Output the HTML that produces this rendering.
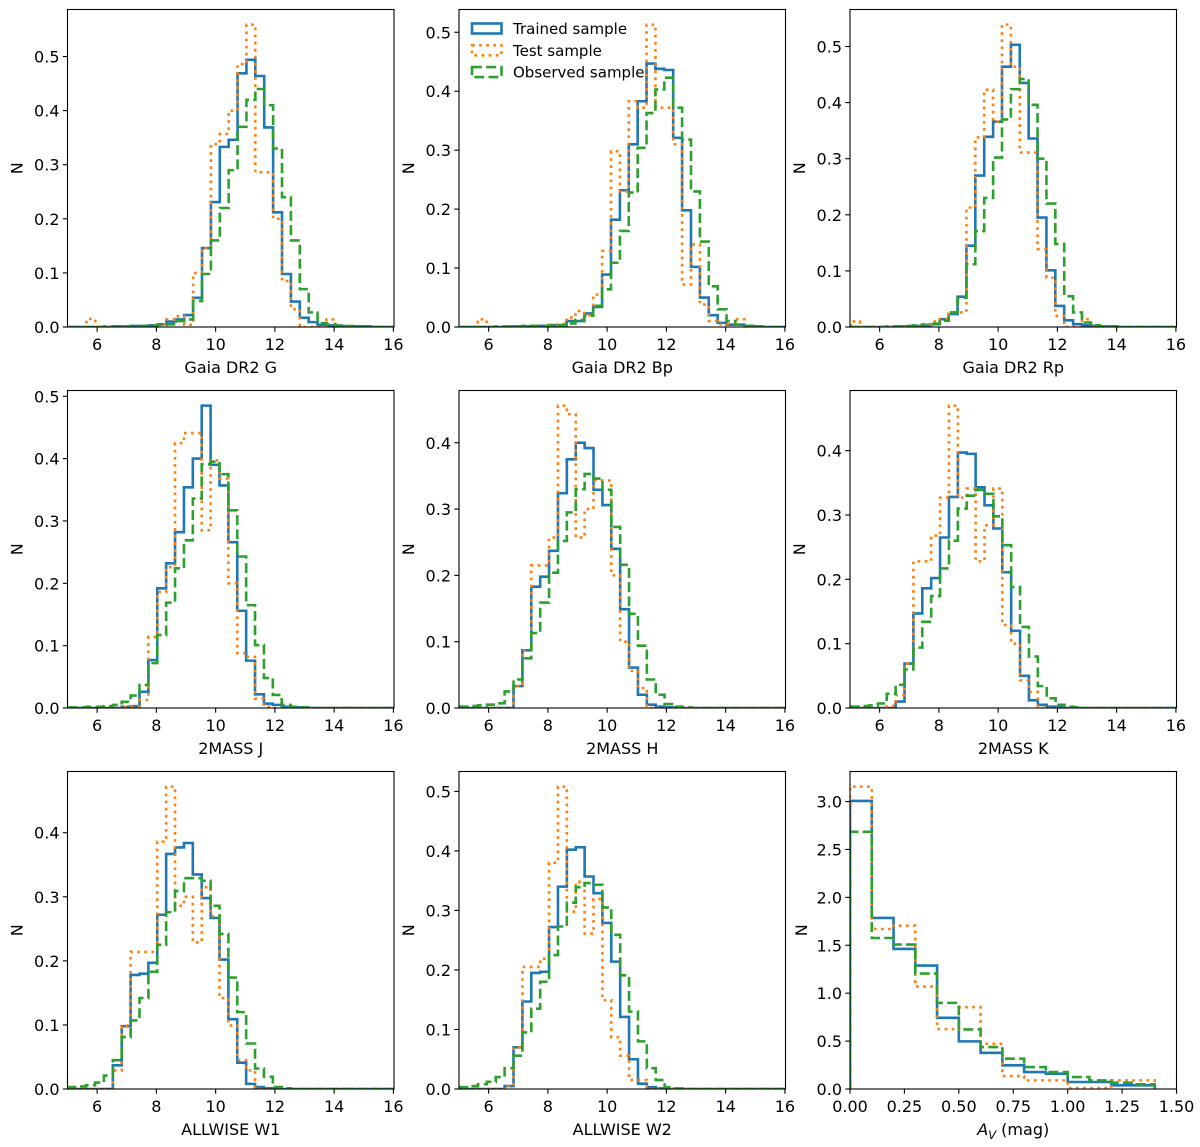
<!DOCTYPE html>
<html><head><meta charset="utf-8"><style>
html,body{margin:0;padding:0;background:#fff;}
svg{display:block;font-family:"DejaVu Sans","Liberation Sans",sans-serif;}
</style></head><body>
<svg id="fig" width="1200" height="1147" viewBox="0 0 1200 1147" xmlns="http://www.w3.org/2000/svg">
<rect x="0" y="0" width="1200" height="1147" fill="#fff"/>
</svg>
<script>
// ---- data ----
const binWidthMag = 0.3;
const binWidthAv = 0.1;
const xTicksMag = [6, 8, 10, 12, 14, 16];
const xTicksAv = [0, 0.25, 0.5, 0.75, 1.0, 1.25, 1.5];
const xLabels = ["Gaia DR2 G","Gaia DR2 Bp","Gaia DR2 Rp","2MASS J","2MASS H","2MASS K","ALLWISE W1","ALLWISE W2","A_V"];
const binStarts = [5.04, 5.03, 5.03, 5.03, 5.04, 5.04, 5.03, 5.04, 0];
const legendLabels = ["Trained sample","Test sample","Observed sample"];

const p1Blue = [0,0,0,0,0,0.001,0.001,0.002,0.002,0.003,0.005,0.01,0.014,0.022,0.054,0.146,0.231,0.333,0.346,0.469,0.494,0.464,0.369,0.212,0.098,0.047,0.017,0.009,0.004,0.003,0.002,0.001,0.001,0.001,0,0,0];
const p1Orange = [0,0,0.015,0,0,0,0,0,0,0,0.005,0.014,0.02,0.004,0.10,0.146,0.338,0.357,0.40,0.486,0.559,0.286,0.286,0.2,0.085,0.033,0,0,0,0.014,0,0,0,0,0,0,0];
const p1Green = [0,0,0,0,0.001,0.001,0.001,0.002,0.002,0.003,0.004,0.005,0.011,0.014,0.048,0.098,0.16,0.22,0.29,0.37,0.42,0.44,0.41,0.33,0.24,0.16,0.07,0.027,0.007,0.005,0.003,0.002,0.001,0.001,0,0,0];

const p2Blue = [0,0,0,0,0,0,0.001,0.001,0.002,0.002,0.003,0.003,0.01,0.01,0.023,0.034,0.089,0.182,0.232,0.31,0.383,0.447,0.438,0.436,0.321,0.198,0.102,0.05,0.02,0.007,0.004,0.004,0.002,0.001,0,0,0];
const p2Orange = [0,0,0.013,0,0,0,0,0,0,0,0.003,0.005,0.016,0.027,0.02,0.055,0.129,0.298,0.23,0.383,0.372,0.513,0.372,0.372,0.31,0.072,0.14,0.038,0.01,0.005,0.005,0.013,0,0,0,0,0];
const p2Green = [0,0,0,0,0.001,0.001,0.001,0.002,0.002,0.002,0.003,0.003,0.006,0.012,0.019,0.036,0.064,0.109,0.163,0.228,0.304,0.363,0.403,0.423,0.372,0.318,0.23,0.145,0.069,0.03,0.01,0.004,0.002,0.001,0,0,0];

const p3Blue = [0,0,0,0,0,0.001,0.001,0.002,0.003,0.005,0.014,0.023,0.054,0.145,0.27,0.339,0.366,0.464,0.503,0.435,0.336,0.195,0.101,0.0375,0.012,0.005,0.003,0.002,0.001,0.001,0,0,0,0,0,0,0];
const p3Orange = [0.01,0,0,0,0,0,0,0,0.005,0.01,0.014,0.026,0.026,0.213,0.338,0.423,0.366,0.539,0.464,0.311,0.311,0.139,0.088,0.02,0,0,0.014,0,0,0,0,0,0,0,0,0,0];
const p3Green = [0,0,0,0,0.001,0.001,0.002,0.003,0.004,0.006,0.011,0.026,0.052,0.112,0.171,0.23,0.302,0.37,0.424,0.442,0.396,0.3,0.22,0.148,0.055,0.026,0.008,0.003,0.001,0.001,0,0,0,0,0,0,0];

const p4Blue = [0,0,0,0,0,0,0.002,0.003,0.026,0.077,0.192,0.232,0.282,0.354,0.40,0.485,0.39,0.357,0.266,0.156,0.076,0.022,0.007,0.005,0.002,0.001,0.001,0,0,0,0,0,0,0,0,0,0];
const p4Orange = [0,0,0,0,0,0,0.002,0.003,0.013,0.114,0.186,0.226,0.425,0.441,0.441,0.285,0.397,0.368,0.2,0.088,0.082,0.015,0.002,0,0,0,0,0,0,0,0,0,0,0,0,0,0];
const p4Green = [0.001,0.001,0.002,0.002,0.003,0.005,0.01,0.02,0.037,0.072,0.117,0.169,0.224,0.269,0.336,0.391,0.395,0.375,0.317,0.243,0.165,0.101,0.048,0.021,0.005,0.002,0.001,0,0,0,0,0,0,0,0,0,0];

const p5Blue = [0,0,0,0,0,0,0.033,0.087,0.183,0.198,0.237,0.324,0.375,0.40,0.392,0.329,0.306,0.24,0.149,0.061,0.02,0.005,0.002,0.001,0,0,0,0,0,0,0,0,0,0,0,0,0];
const p5Orange = [0,0,0,0,0,0,0.033,0.087,0.215,0.215,0.257,0.456,0.443,0.257,0.30,0.343,0.343,0.2,0.1,0.056,0.03,0,0,0,0,0,0,0,0,0,0,0,0,0,0,0,0];
const p5Green = [0.002,0.003,0.004,0.005,0.007,0.025,0.043,0.075,0.113,0.159,0.204,0.252,0.295,0.33,0.353,0.346,0.329,0.273,0.216,0.142,0.094,0.043,0.02,0.006,0.002,0.001,0,0,0,0,0,0,0,0,0,0,0];

const p6Blue = [0,0,0,0,0,0.01,0.069,0.147,0.186,0.202,0.265,0.328,0.397,0.395,0.343,0.315,0.279,0.211,0.12,0.05,0.012,0.005,0.002,0.001,0,0,0,0,0,0,0,0,0,0,0,0,0];
const p6Orange = [0,0,0,0,0.003,0.02,0.069,0.228,0.228,0.268,0.327,0.47,0.327,0.341,0.228,0.284,0.341,0.129,0.1,0.043,0.025,0,0,0,0,0,0,0,0,0,0,0,0,0,0,0,0];
const p6Green = [0.002,0.003,0.004,0.007,0.022,0.036,0.06,0.094,0.134,0.174,0.217,0.26,0.31,0.33,0.339,0.333,0.298,0.253,0.188,0.126,0.08,0.034,0.015,0.005,0.002,0.001,0,0,0,0,0,0,0,0,0,0,0];

const p7Blue = [0,0,0,0,0,0.037,0.098,0.178,0.18,0.197,0.272,0.367,0.377,0.384,0.335,0.298,0.267,0.202,0.109,0.041,0.008,0.003,0.001,0,0,0,0,0,0,0,0,0,0,0,0,0,0];
const p7Orange = [0,0,0,0,0,0.029,0.099,0.214,0.214,0.214,0.386,0.472,0.286,0.3,0.229,0.315,0.27,0.142,0.099,0.045,0.029,0,0,0,0,0,0,0,0,0,0,0,0,0,0,0,0];
const p7Green = [0.003,0.004,0.006,0.01,0.021,0.045,0.081,0.107,0.142,0.183,0.225,0.276,0.309,0.329,0.329,0.325,0.286,0.242,0.174,0.12,0.071,0.032,0.019,0.003,0.001,0,0,0,0,0,0,0,0,0,0,0,0];

const p8Blue = [0,0,0,0,0,0.005,0.07,0.147,0.195,0.197,0.272,0.34,0.402,0.406,0.357,0.329,0.279,0.214,0.121,0.05,0.009,0.003,0.001,0,0,0,0,0,0,0,0,0,0,0,0,0,0];
const p8Orange = [0,0,0,0,0,0.005,0.07,0.205,0.205,0.219,0.38,0.508,0.298,0.348,0.261,0.319,0.149,0.087,0.056,0.015,0.015,0,0,0,0,0,0,0,0,0,0,0,0,0,0,0,0];
const p8Green = [0.003,0.005,0.008,0.012,0.02,0.035,0.056,0.095,0.135,0.18,0.225,0.273,0.313,0.339,0.346,0.343,0.305,0.259,0.191,0.13,0.08,0.035,0.015,0.003,0.001,0,0,0,0,0,0,0,0,0,0,0,0];

const p9Blue = [3.007,1.785,1.462,1.288,0.743,0.497,0.378,0.247,0.177,0.16,0.073,0.073,0.038,0.038];
const p9Orange = [3.156,1.67,1.705,1.069,0.625,0.854,0.472,0.135,0.09,0.09,0.01,0.01,0.09,0.09];
const p9Green = [2.684,1.576,1.507,1.205,0.899,0.622,0.438,0.316,0.229,0.177,0.125,0.09,0.066,0.049];

const blueSeries = [p1Blue,p2Blue,p3Blue,p4Blue,p5Blue,p6Blue,p7Blue,p8Blue,p9Blue];
const orangeSeries = [p1Orange,p2Orange,p3Orange,p4Orange,p5Orange,p6Orange,p7Orange,p8Orange,p9Orange];
const greenSeries = [p1Green,p2Green,p3Green,p4Green,p5Green,p6Green,p7Green,p8Green,p9Green];

// ---- drawing ----
const NS = "http://www.w3.org/2000/svg";
const svg = document.getElementById("fig");
const colLeft = [67.5, 459, 850];
const rowTop = [9.5, 390.5, 771.5];
const AW = 326.5, AH = 317.5;
const FS = 16;
const styles = [
  {color:"#1f77b4", dash:null, name:"trained"},
  {color:"#ff7f0e", dash:"2.7 4.4", name:"test"},
  {color:"#2ca02c", dash:"9.9 4.3", name:"observed"}
];
function mk(tag, attrs, parent){
  const e = document.createElementNS(NS, tag);
  for (const k in attrs) e.setAttribute(k, attrs[k]);
  (parent||svg).appendChild(e);
  return e;
}

for (let p = 0; p < 9; p++){
  const L = colLeft[p%3], T = rowTop[Math.floor(p/3)], B = T + AH;
  const isAv = p === 8;
  const xMin = isAv ? 0 : 5, xMax = isAv ? 1.5 : 16.02;
  const bw = isAv ? binWidthAv : binWidthMag;
  const series = [blueSeries[p], orangeSeries[p], greenSeries[p]];
  const maxV = Math.max(...series.map(s => Math.max(...s)));
  const yMax = maxV * 1.05;
  const xs = v => L + (v - xMin) / (xMax - xMin) * AW;
  const ys = v => B - v / yMax * AH;

  const g = mk("g", {});
  
  

  const cp = mk("clipPath", {id:"clip"+p}, g);
  mk("rect", {x:L, y:T, width:AW, height:AH}, cp);

  series.forEach((vals, si) => {
    const st = binStarts[p];
    let d = "M" + xs(st).toFixed(2) + "," + ys(0).toFixed(2);
    for (let i = 0; i < vals.length; i++){
      const x0 = xs(st + i*bw), x1 = xs(st + (i+1)*bw), y = ys(vals[i]);
      d += " L" + x0.toFixed(2) + "," + y.toFixed(2) + " L" + x1.toFixed(2) + "," + y.toFixed(2);
    }
    d += " L" + xs(st + vals.length*bw).toFixed(2) + "," + ys(0).toFixed(2);
    const a = {d:d, fill:"none", stroke:styles[si].color, "stroke-width":2.6, "clip-path":"url(#clip"+p+")", "stroke-linejoin":"miter"};
    if (styles[si].dash) a["stroke-dasharray"] = styles[si].dash;
    const path = mk("path", a, g);
    
    
  });

  const fr = mk("rect", {x:L, y:T, width:AW, height:AH, fill:"none", stroke:"#000", "stroke-width":1.1}, g);
  
  

  const xt = isAv ? xTicksAv : xTicksMag;
  xt.forEach(v => {
    const x = xs(v);
    mk("line", {x1:x, y1:B, x2:x, y2:B+4.7, stroke:"#000", "stroke-width":1.1}, g);
    const t = mk("text", {x:x, y:B+23, "font-size":FS, "text-anchor":"middle", fill:"#000"}, g);
    t.textContent = isAv ? v.toFixed(2) : String(v);
    
    
  });
  const step = isAv ? 0.5 : 0.1;
  for (let k = 0; k * step <= yMax + 1e-9; k++){
    const v = k*step, y = ys(v);
    mk("line", {x1:L-4.7, y1:y, x2:L, y2:y, stroke:"#000", "stroke-width":1.1}, g);
    const t = mk("text", {x:L-8, y:y+6, "font-size":FS, "text-anchor":"end", fill:"#000"}, g);
    t.textContent = v.toFixed(1);
    
    
  }
  const xl = mk("text", {x:L+AW/2, y:B+46, "font-size":FS, "text-anchor":"middle", fill:"#000"}, g);
  if (isAv){
    const a1 = mk("tspan", {"font-style":"italic"}, xl); a1.textContent = "A";
    const a2 = mk("tspan", {"font-style":"italic", "font-size":11.5, dy:4}, xl); a2.textContent = "V";
    const a3 = mk("tspan", {dy:-4}, xl); a3.textContent = " (mag)";
  } else {
    xl.textContent = xLabels[p];
  }
  
  
  const yx = L - (isAv ? 43 : 45), yy = T + AH/2;
  const yl = mk("text", {x:yx, y:yy, "font-size":FS, "text-anchor":"middle", fill:"#000", transform:"rotate(-90 "+yx+" "+yy+")"}, g);
  yl.textContent = "N";
  
  
}

const lg = mk("g", {});


legendLabels.forEach((lab, i) => {
  const y = 23.5 + i*21.8;
  const r = mk("rect", {x:472, y:y, width:29.5, height:10, fill:"none", stroke:styles[i].color, "stroke-width":2.6}, lg);
  if (styles[i].dash) r.setAttribute("stroke-dasharray", styles[i].dash);
  
  
  const t = mk("text", {x:513, y:y+10.5, "font-size":15, fill:"#000"}, lg);
  t.textContent = lab;
  
  
});
</script>
</body></html>
